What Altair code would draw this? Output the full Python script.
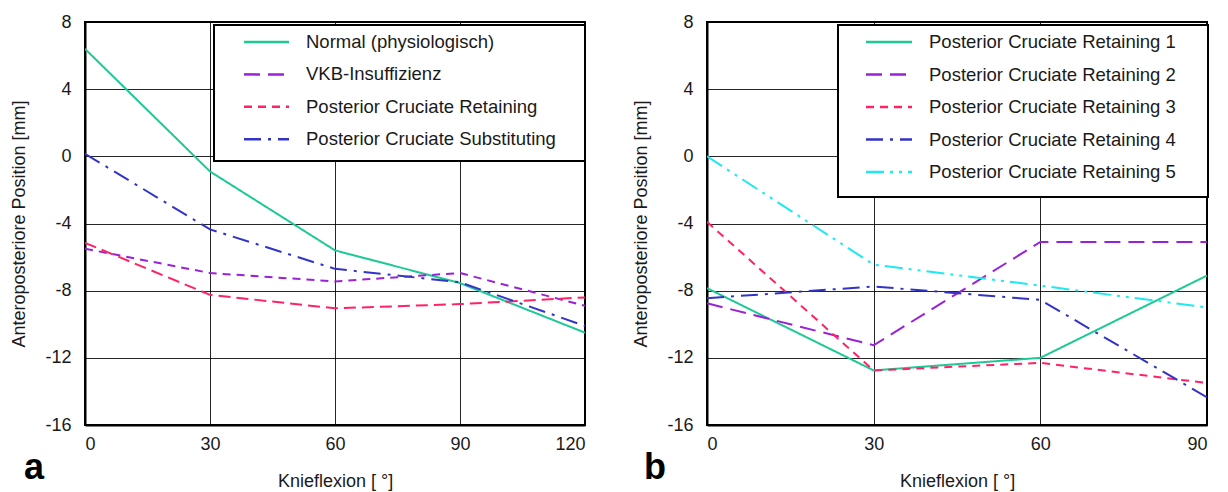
import altair as alt
import pandas as pd

FONT = "Liberation Sans"

# ---------------- data ----------------
knee_a = [0, 30, 60, 90, 120]
series_a = ["Normal (physiologisch)", "VKB-Insuffizienz",
            "Posterior Cruciate Retaining", "Posterior Cruciate Substituting"]
normal = [6.4, -0.9, -5.6, -7.55, -10.5]
vkb = [-5.5, -6.95, -7.45, -6.95, -8.9]
pcr = [-5.15, -8.25, -9.05, -8.8, -8.4]
pcs = [0.15, -4.35, -6.7, -7.5, -10.1]

knee_b = [0, 30, 60, 90]
series_b = ["Posterior Cruciate Retaining 1", "Posterior Cruciate Retaining 2",
            "Posterior Cruciate Retaining 3", "Posterior Cruciate Retaining 4",
            "Posterior Cruciate Retaining 5"]
pcr1 = [-7.85, -12.75, -12.0, -7.1]
pcr2 = [-8.75, -11.25, -5.1, -5.1]
pcr3 = [-3.9, -12.75, -12.3, -13.5]
pcr4 = [-8.45, -7.75, -8.55, -14.35]
pcr5 = [0.0, -6.45, -7.7, -9.0]

y_ticks = [-16, -12, -8, -4, 0, 4, 8]

# ---------------- styles ----------------
GREEN = "#1dc995"
PURPLE = "#9a22d6"
PINK = "#ff2266"
BLUE = "#3333c8"
CYAN = "#1ee8f0"

SOLID = [1, 0]
LONG = [16, 8]
SHORT = [8, 6]
DASHDOT = [17, 7, 3, 7]
DASHDOTDOT = [18, 6, 3, 6, 3, 6]


def panel(knee, names, values, colors, dashes, legend_dashes, letter, letter_dx,
          box, sym_x0, sym_x1, text_x, row_y0, row_dy):
    rows = []
    for name, vals in zip(names, values):
        for k, v in zip(knee, vals):
            rows.append({"knee": k, "pos": v, "series": name})
    df = pd.DataFrame(rows)

    lines = alt.Chart(df).mark_line(strokeWidth=2, clip=True).encode(
        x=alt.X("knee:Q",
                scale=alt.Scale(domain=[knee[0], knee[-1]], nice=False, zero=False),
                axis=alt.Axis(values=knee, title="Knieflexion [ °]",
                              labelExpr="'' + datum.value")),
        y=alt.Y("pos:Q",
                scale=alt.Scale(domain=[-16, 8], nice=False),
                axis=alt.Axis(values=y_ticks, title="Anteroposteriore Position [mm]",
                              labelExpr="'' + datum.value")),
        color=alt.Color("series:N", scale=alt.Scale(domain=names, range=colors), legend=None),
        strokeDash=alt.StrokeDash("series:N", scale=alt.Scale(domain=names, range=dashes), legend=None),
    )

    one = pd.DataFrame({"k": [0]})
    layers = [lines]
    layers.append(alt.Chart(one).mark_rect(fill="white", stroke="black", strokeWidth=2).encode(
        x=alt.value(box[0]), x2=alt.value(box[1]), y=alt.value(box[2]), y2=alt.value(box[3])))
    for i, (name, c, d) in enumerate(zip(names, colors, legend_dashes)):
        yy = row_y0 + i * row_dy
        layers.append(alt.Chart(one).mark_rule(color=c, strokeDash=d, strokeWidth=2.5).encode(
            x=alt.value(sym_x0), x2=alt.value(sym_x1), y=alt.value(yy)))
        layers.append(alt.Chart(one).mark_text(
            text=name, align="left", baseline="middle", font=FONT, fontSize=18.5,
            color="#1a1a1a").encode(x=alt.value(text_x), y=alt.value(yy)))
    layers.append(alt.Chart(one).mark_text(
        text=letter, align="left", baseline="alphabetic", font=FONT, fontSize=36,
        fontWeight="bold", color="black").encode(x=alt.value(letter_dx), y=alt.value(457)))
    return alt.layer(*layers).properties(width=500, height=403)


chart_a = panel(knee_a, series_a, [normal, vkb, pcr, pcs],
                [GREEN, PURPLE, PINK, BLUE],
                [SOLID, SHORT, [12, 6], DASHDOT],
                [SOLID, LONG, SHORT, DASHDOT],
                "a", -61, (129, 500, 3, 139), 159, 204, 221, 20, 32.4)

chart_b = panel(knee_b, series_b, [pcr1, pcr2, pcr3, pcr4, pcr5],
                [GREEN, PURPLE, PINK, BLUE, CYAN],
                [SOLID, LONG, SHORT, DASHDOT, DASHDOTDOT],
                [SOLID, LONG, SHORT, DASHDOT, DASHDOTDOT],
                "b", -63, (131, 501, 3, 175), 159, 205, 222, 20, 32.5)

chart = alt.hconcat(chart_a, chart_b, spacing=122, bounds="flush").resolve_scale(
    color="independent", strokeDash="independent", x="independent", y="independent"
).properties(
    padding={"left": 1, "top": 4, "right": 5, "bottom": 5}
).configure_axis(
    labelFont=FONT, labelFontSize=18, labelColor="#1a1a1a",
    titleFont=FONT, titleFontSize=18, titleFontWeight="normal", titleColor="#1a1a1a",
    grid=True, gridColor="black", gridWidth=1, gridOpacity=0.85,
    domainColor="black", domainWidth=2, ticks=False,
).configure_axisY(
    labelPadding=14, titlePadding=16,
).configure_axisX(
    labelPadding=10, titlePadding=19,
).configure_view(stroke="black", strokeWidth=2)

chart.save("out.html", embed_options={"renderer": "svg", "actions": False})
